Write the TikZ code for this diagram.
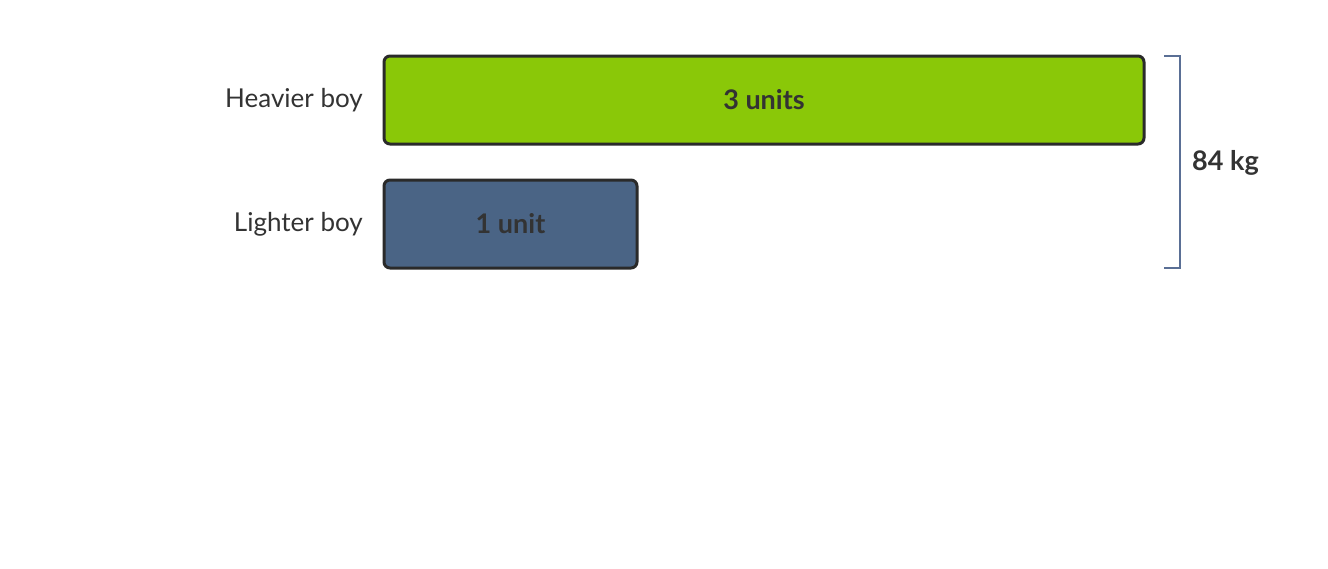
\documentclass[tikz,border=0pt]{standalone}
\usepackage{fontspec}
\setmainfont{Lato}
\definecolor{barGreen}{HTML}{8AC808}
\definecolor{barBlue}{HTML}{4A6485}
\definecolor{edge}{HTML}{2A2A2A}
\definecolor{brace}{HTML}{5A6F95}
\definecolor{txt}{HTML}{333333}
\begin{document}
\begin{tikzpicture}[x=1pt,y=-1pt,
  bar/.style={draw=edge,line width=3pt,rounded corners=6pt,inner sep=0pt,
    font=\fontsize{27}{32}\selectfont\bfseries,text=txt},
  lab/.style={anchor=east,inner sep=0pt,font=\fontsize{26}{30}\selectfont,text=txt},
  brk/.style={draw=brace,line width=2.4pt}]
\useasboundingbox[fill=white] (0,0) rectangle (1328,568);
\node[bar,fill=barGreen,minimum width=760pt,minimum height=88pt] (heavy) at (764,100) {3 units};
\node[bar,fill=barBlue,minimum width=253pt,minimum height=88pt] (light) at (510.5,224) {1 unit};
\node[lab] (hl) at (363,100) {Heavier boy};
\node[lab] (ll) at (363,224) {Lighter boy};
\coordinate (bt) at (1164,56);
\coordinate (bb) at (1164,268);
\draw[brk] (bt) -- ++(16,0) |- (bb);
\node[anchor=west,inner sep=0pt,font=\fontsize{27}{32}\selectfont\bfseries,text=txt] (kg) at (1192,163) {84 kg};
\end{tikzpicture}
\end{document}
